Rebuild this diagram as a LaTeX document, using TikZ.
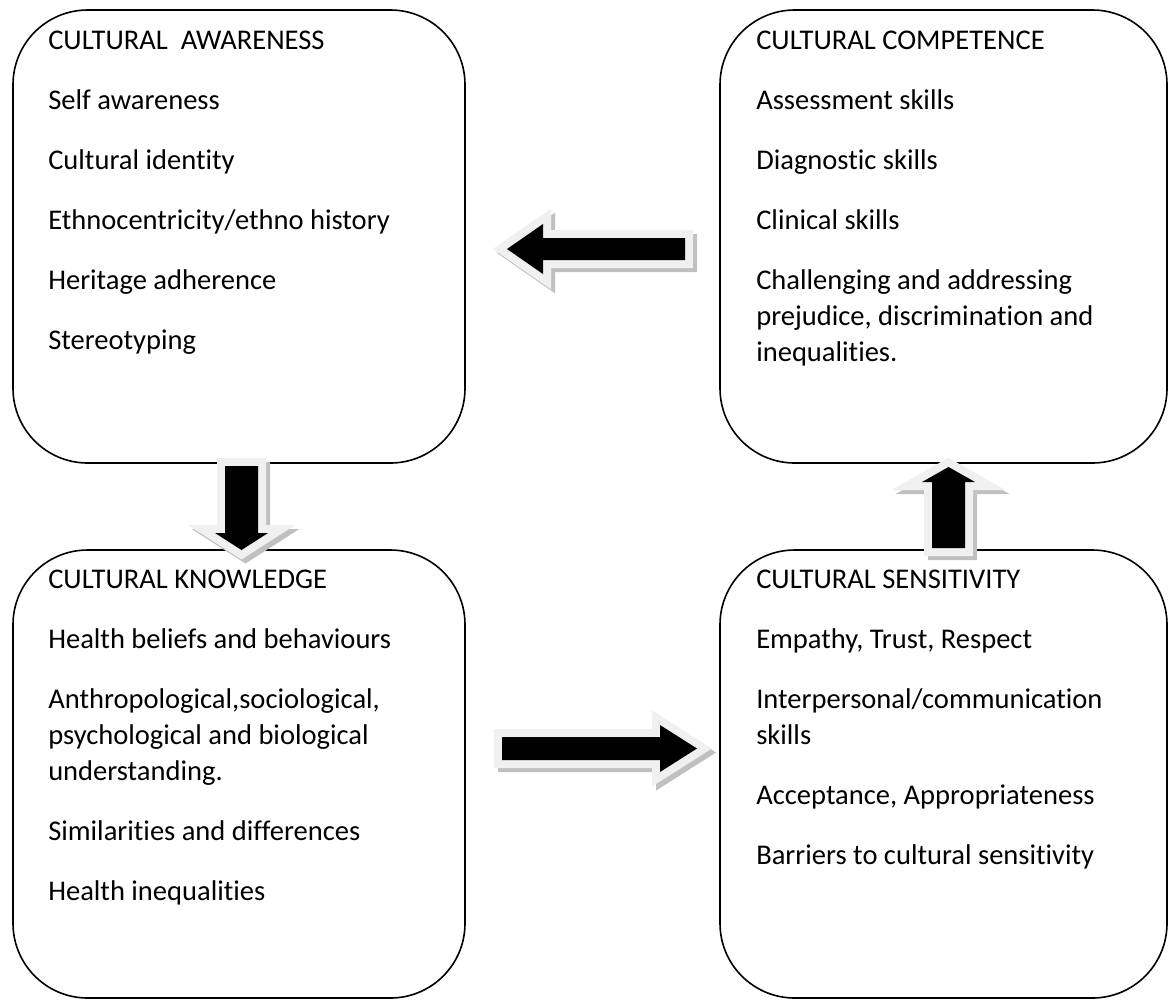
\documentclass[tikz,border=0pt]{standalone}
\usepackage{fontspec}
\setmainfont{Carlito}[Ligatures={NoCommon}]
\definecolor{arrborder}{HTML}{F0F0F0}
\definecolor{arrshadow}{HTML}{C0C0C0}
\begin{document}
\begin{tikzpicture}[x=0.75pt,y=-0.75pt,
  box/.style={draw=black, line width=1.2pt, rounded corners=56pt, inner sep=0pt},
  txt/.style={anchor=base west, inner sep=0pt, font=\fontsize{21.4pt}{26pt}\selectfont},
  arrshadowstyle/.style={draw=arrshadow, fill=arrshadow, line width=12pt, line join=miter},
  arrborderstyle/.style={draw=arrborder, fill=arrborder, line width=12pt, line join=miter},
  arrfill/.style={fill=black},
  arrA/.style={insert path={(507,249) -- (543,224) -- (543,238) -- (685,238) -- (685,260) -- (543,260) -- (543,274) -- cycle}},
  arrB/.style={insert path={(225,466) -- (258,466) -- (258,533) -- (268,533) -- (241.5,550) -- (215,533) -- (225,533) -- cycle}},
  arrC/.style={insert path={(932,548) -- (932,482) -- (922,482) -- (948.5,467) -- (975,482) -- (965,482) -- (965,548) -- cycle}},
  arrD/.style={insert path={(502,737) -- (660,737) -- (660,725) -- (697,748.5) -- (660,772) -- (660,760) -- (502,760) -- cycle}}
]
\useasboundingbox (0,0) rectangle (1170,1001);
\fill[white] (0,0) rectangle (1170,1001);

% boxes
\node[box, minimum width=339pt, minimum height=339.75pt] (aw) at (239,236.5) {};
\node[box, minimum width=335.25pt, minimum height=339.75pt] (co) at (943.5,236.5) {};
\node[box, minimum width=339pt, minimum height=336pt] (kn) at (239,774) {};
\node[box, minimum width=335.25pt, minimum height=336pt] (se) at (943.5,774) {};

% awareness
\node[txt] (aw0) at (48,49) {CULTURAL\ \ AWARENESS};
\node[txt] (aw1) at (48,109) {Self awareness};
\node[txt] (aw2) at (48,169) {Cultural identity};
\node[txt] (aw3) at (48,229) {Ethnocentricity/ethno history};
\node[txt] (aw4) at (48,289) {Heritage adherence};
\node[txt] (aw5) at (48,349) {Stereotyping};

% competence
\node[txt] (co0) at (756,49) {CULTURAL COMPETENCE};
\node[txt] (co1) at (756,109) {Assessment skills};
\node[txt] (co2) at (756,169) {Diagnostic skills};
\node[txt] (co3) at (756,229) {Clinical skills};
\node[txt] (co4) at (756,289) {Challenging and addressing};
\node[txt] (co5) at (756,325) {prejudice, discrimination and};
\node[txt] (co6) at (756,361) {inequalities.};

% knowledge
\node[txt] (kn0) at (48,588) {CULTURAL KNOWLEDGE};
\node[txt] (kn1) at (48,648) {Health beliefs and behaviours};
\node[txt] (kn2) at (48,708) {Anthropological,sociological,};
\node[txt] (kn3) at (48,744) {psychological and biological};
\node[txt] (kn4) at (48,780) {understanding.};
\node[txt] (kn5) at (48,840) {Similarities and differences};
\node[txt] (kn6) at (48,900) {Health inequalities};

% sensitivity
\node[txt] (se0) at (756,588) {CULTURAL SENSITIVITY};
\node[txt] (se1) at (756,648) {Empathy, Trust, Respect};
\node[txt] (se2) at (756,708) {Interpersonal/communication};
\node[txt] (se3) at (756,744) {skills};
\node[txt] (se4) at (756,804) {Acceptance, Appropriateness};
\node[txt] (se5) at (756,864) {Barriers to cultural sensitivity};

% block arrows
\foreach \a in {arrA,arrB,arrC,arrD}{
  \path[arrshadowstyle, shift={(4,4)}, \a];
  \path[arrborderstyle, \a];
  \path[arrfill, \a];
}
\end{tikzpicture}
\end{document}
